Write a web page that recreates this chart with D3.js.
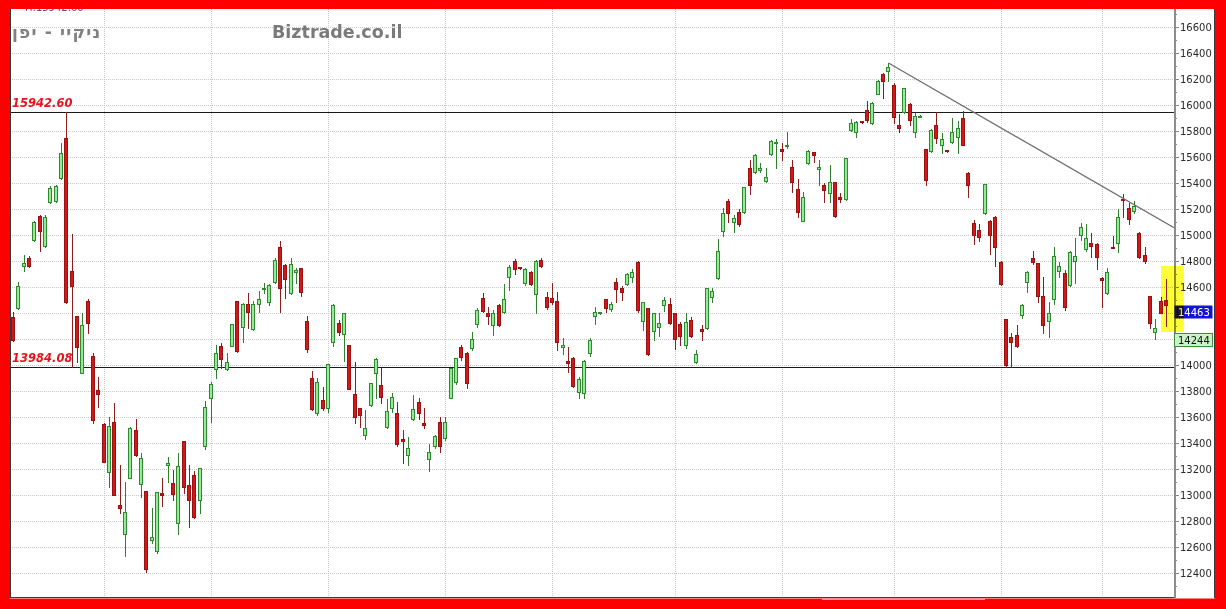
<!DOCTYPE html>
<html>
<head>
<meta charset="utf-8">
<script src="https://cdnjs.cloudflare.com/ajax/libs/d3/7.8.5/d3.min.js"></script>
<style>
  html, body { margin: 0; padding: 0; background: #fff; }
  svg { display: block; }
</style>
</head>
<body>
<svg id="chart" width="1226" height="609"></svg>
<script>
// Nikkei 225 daily candles (oldest first)
const openP = [
  14370,14440,14763,14824,14962,15147,14916,15255,15262,15439,15747,14724,14378,13940,14493,14071,13809,13548,13179,13563,
  12925,12702,13133,13502,13087,13033,12656,12572,13017,13233,13094,12787,13417,13079,13156,12964,13379,13748,13971,14148,
  13971,14148,14493,14294,14470,14278,14470,14586,14486,14640,14909,14770,14555,14716,14747,14340,13902,13632,13732,13671,
  14178,14324,14240,14155,13778,13671,13463,13694,13940,13848,13525,13671,13632,13433,13310,13586,13717,13556,13279,13379,
  13563,13440,13748,13871,14140,14094,14132,14317,14517,14401,14309,14463,14409,14678,14801,14751,14632,14716,14547,14809,
  14524,14517,14493,14140,14032,14055,13794,13786,14094,14378,14397,14509,14432,14640,14594,14624,14678,14793,14340,14440,
  14263,14294,14463,14470,14401,14317,14155,14347,14025,14278,14286,14524,14670,15032,15262,15101,15178,15178,15516,15485,
  15501,15416,15624,15710,15662,15685,15524,15355,15109,15554,15639,15508,15385,15324,15408,15293,15278,15808,15793,15874,
  15962,15862,16085,16239,16262,16154,15847,15947,16008,15793,15916,15662,15647,15847,15693,15651,15716,15754,15900,15478,
  15093,15039,15170,15108,15139,14793,14355,14217,14232,14386,14640,14824,14786,14532,14340,14509,14724,14709,14617,14801,
  15001,14893,14939,14932,14670,14555,14909,14939,15278,15209,15186,15016,14847,14532,14255,14493,14501
];
const highP = [
  14408,14640,14847,14839,15110,15155,15155,15378,15386,15708,15942.60,15009,14378,14401,14509,14094,13909,13556,13602,13709,
  13233,13102,13525,13586,13325,13033,12902,13025,13133,13294,13194,13325,13417,13233,13187,13210,13725,13871,14155,14171,
  14094,14317,14493,14478,14555,14493,14570,14632,14624,14824,14955,14778,14824,14747,14747,14378,13955,13902,13832,14009,
  14470,14347,14401,14155,14025,13671,13655,13863,14055,13978,13740,13786,13717,13502,13448,13771,13748,13671,13394,13463,
  13602,13602,13979,14055,14155,14101,14255,14440,14555,14447,14424,14470,14624,14770,14816,14755,14747,14724,14809,14824,
  14563,14632,14563,14209,14140,14063,13909,14040,14209,14447,14409,14509,14486,14670,14609,14709,14740,14801,14486,14440,
  14401,14401,14524,14517,14401,14332,14401,14370,14117,14309,14594,14594,14970,15208,15278,15155,15201,15370,15578,15624,
  15555,15516,15731,15735,15708,15793,15578,15431,15331,15655,15639,15578,15401,15539,15408,15324,15593,15893,15877,15880,
  16031,16023,16193,16246,16323,16169,15931,16131,16016,15939,15922,15662,15816,15947,15785,15655,15900,15877,15954,15485,
  15116,15086,15393,15116,15147,14801,14355,14247,14309,14470,14724,14878,14786,14678,14486,14909,14793,14732,14878,14978,
  15093,15086,15016,14939,14678,14747,14993,15201,15316,15247,15262,15024,14909,14532,14355,14524,14663
];
const lowP = [
  14185,14432,14724,14755,14955,14878,14909,15247,15255,15431,14480,13984.08,14025,13940,14247,13556,13679,13256,13064,13002,
  12864,12533,13133,13302,12987,12405,12633,12556,12917,13102,12964,12702,13017,12756,12825,12864,13356,13563,13902,13979,
  13963,14148,14101,14178,14286,14271,14409,14555,14463,14632,14409,14517,14547,14632,14532,14101,13655,13617,13655,13640,
  14148,14232,14032,13817,13556,13525,13433,13686,13748,13709,13517,13640,13379,13248,13233,13579,13586,13517,13187,13364,
  13333,13425,13748,13855,14040,13825,14117,14294,14409,14317,14232,14301,14401,14578,14701,14740,14617,14617,14401,14755,
  14432,14470,14117,14086,13948,13832,13748,13748,14071,14317,14394,14409,14417,14486,14501,14617,14640,14409,14271,14078,
  14194,14224,14417,14317,14125,14155,14132,14217,14017,14194,14278,14486,14663,14993,15101,15024,15070,15170,15316,15478,
  15485,15408,15616,15515,15578,15670,15331,15139,15109,15547,15562,15385,15255,15255,15139,15255,15270,15800,15754,15860,
  15870,15854,16085,16054,16185,15862,15793,15939,15847,15754,15912,15385,15639,15708,15631,15639,15708,15631,15693,15293,
  14932,14955,15162,14855,14763,14617,13987,13986,14140,14363,14563,14778,14486,14247,14217,14470,14678,14424,14609,14632,
  14962,14878,14832,14740,14447,14547,14901,14870,15139,15086,15170,14824,14786,14286,14201,14401,14301
];
const closeP = [
  14194,14609,14786,14763,15101,15032,15139,15362,15378,15631,14486,14609,14140,14309,14324,13579,13778,13256,13533,13002,
  12902,12871,13517,13310,13287,12433,12679,13025,13002,13248,13010,13225,13064,12964,12833,13210,13679,13855,14094,14048,
  14025,14317,14109,14470,14409,14470,14509,14594,14617,14809,14594,14663,14778,14732,14563,14125,13663,13871,13671,14009,
  14463,14255,14401,13817,13602,13617,13517,13863,14048,13755,13648,13755,13394,13417,13364,13663,13632,13540,13333,13456,
  13379,13563,13979,14055,14063,13863,14201,14424,14417,14378,14401,14309,14509,14755,14740,14743,14740,14624,14801,14763,
  14447,14486,14178,14155,14017,13840,13894,14032,14194,14409,14405,14440,14470,14586,14563,14701,14716,14424,14486,14086,
  14401,14324,14501,14324,14201,14224,14332,14224,14086,14263,14594,14570,14878,15170,15170,15132,15086,15370,15385,15616,
  15516,15447,15724,15718,15647,15693,15408,15178,15293,15647,15616,15524,15347,15408,15147,15278,15593,15862,15870,15866,
  15885,16016,16185,16185,16292,15908,15824,16131,15885,15916,15918,15424,15808,15747,15739,15643,15793,15824,15693,15385,
  15001,14986,15393,15001,14909,14624,14001,14178,14148,14463,14716,14793,14532,14309,14401,14839,14763,14447,14870,14839,
  15062,14978,14916,14832,14655,14716,14901,15139,15270,15124,15224,14832,14801,14324,14286,14401,14463
];

// first session of each month (candle index)
const monthStartIdx = [17, 37, 59, 81, 101, 124, 144, 165, 185, 204];
// price axis
const tickValues = d3.range(12400, 16601, 200);
const minorTickValues = d3.range(12300, 16701, 100);
// support / resistance levels
const levelHigh = 15942.60;
const levelLow = 13984.08;
const lastClose = 14463;
const markerLevel = 14244;
// falling resistance line through two session highs
const trendA = { i: 164, v: 16323 };
const trendB = { i: 208, v: 15281 };

const titleHe = "ניקיי - יפן";
const siteName = "Biztrade.co.il";
const headerInfo = "H:15942.60";

const W = 1226, H = 609;
const plot = { left: 10, right: 1174, top: 9, bottom: 597 };
const font = "DejaVu Sans, Verdana, sans-serif";

const candles = openP.map((o, i) => ({ i, o, h: highP[i], l: lowP[i], c: closeP[i] }));

const x = d3.scaleLinear().domain([0, candles.length - 1]).range([13, 1166]);
const y = d3.scaleLinear().domain([12400, 16600]).range([573, 27]);

const svg = d3.select("#chart");
svg.append("rect").attr("width", W).attr("height", H).attr("fill", "#fff");

svg.append("defs").append("clipPath").attr("id", "plotClip")
  .append("rect").attr("x", plot.left).attr("y", plot.top)
  .attr("width", plot.right - plot.left).attr("height", plot.bottom - plot.top);

const px = v => Math.round(v) + 0.5;

// grid
const grid = svg.append("g").attr("clip-path", "url(#plotClip)");
grid.selectAll("line.h").data(tickValues).join("line")
  .attr("x1", plot.left).attr("x2", plot.right)
  .attr("y1", d => px(y(d))).attr("y2", d => px(y(d)))
  .attr("stroke", "#c8c8c8").attr("stroke-dasharray", "1,1").attr("stroke-width", 1);
grid.selectAll("line.v").data(monthStartIdx).join("line")
  .attr("x1", d => px(x(d))).attr("x2", d => px(x(d)))
  .attr("y1", plot.top).attr("y2", plot.bottom)
  .attr("stroke", "#c8c8c8").attr("stroke-dasharray", "1,1").attr("stroke-width", 1);

// horizontal levels
grid.selectAll("line.lvl").data([levelHigh, levelLow]).join("line")
  .attr("x1", plot.left).attr("x2", plot.right)
  .attr("y1", d => px(y(d))).attr("y2", d => px(y(d)))
  .attr("stroke", "#1a1a1a").attr("stroke-width", 1);

// candles
const cg = svg.append("g").attr("clip-path", "url(#plotClip)").attr("shape-rendering", "crispEdges");
const up = d => d.c >= d.o;
cg.selectAll("line.wick").data(candles).join("line")
  .attr("x1", d => px(x(d.i))).attr("x2", d => px(x(d.i)))
  .attr("y1", d => Math.round(y(d.h))).attr("y2", d => Math.round(y(d.l)) + 1)
  .attr("stroke", d => up(d) ? "#2f7f2f" : "#8e1c1c").attr("stroke-width", 1);
cg.selectAll("rect.body").data(candles).join("rect")
  .attr("x", d => Math.round(x(d.i)) - 1.5)
  .attr("y", d => Math.round(y(Math.max(d.o, d.c))) + 0.5)
  .attr("width", 3)
  .attr("height", d => Math.max(1, Math.round(y(Math.min(d.o, d.c))) - Math.round(y(Math.max(d.o, d.c)))))
  .attr("fill", d => up(d) ? "#93ec93" : "#d11818")
  .attr("stroke", d => up(d) ? "#2f8a2f" : "#9b1010")
  .attr("stroke-width", 1);

// trendline extended to the right edge
const slope = (trendB.v - trendA.v) / (trendB.i - trendA.i);
const iEnd = x.invert(plot.right);
svg.append("line").attr("clip-path", "url(#plotClip)")
  .attr("x1", x(trendA.i)).attr("y1", y(trendA.v))
  .attr("x2", x(iEnd)).attr("y2", y(trendA.v + slope * (iEnd - trendA.i)))
  .attr("stroke", "#6e6e6e").attr("stroke-width", 1.3);

// value boxes on the axis
const boxW = 39, boxH = 13;
const boxes = [
  { v: lastClose, fill: "#1414d8", stroke: "none", text: "#fff" },
  { v: markerLevel, fill: "#c6f4c6", stroke: "#3d8f3d", text: "#111" }
];
const boxTop = v => Math.round(y(v));
const hiddenByBox = t => boxes.some(b => y(t) > boxTop(b.v) - 4 && y(t) < boxTop(b.v) + boxH + 4);

// right price axis
const ax = svg.append("g").attr("shape-rendering", "crispEdges");
ax.selectAll("line.minor").data(minorTickValues.filter(v => y(v) > plot.top && y(v) < plot.bottom)).join("line")
  .attr("x1", plot.right).attr("x2", plot.right + 3)
  .attr("y1", d => px(y(d))).attr("y2", d => px(y(d)))
  .attr("stroke", "#8a8a8a");
ax.selectAll("line.major").data(tickValues).join("line")
  .attr("x1", plot.right).attr("x2", plot.right + 5)
  .attr("y1", d => px(y(d))).attr("y2", d => px(y(d)))
  .attr("stroke", "#8a8a8a");
ax.append("line").attr("x1", plot.right + 0.5).attr("x2", plot.right + 0.5)
  .attr("y1", plot.top).attr("y2", plot.bottom + 1)
  .attr("stroke", "#8c8c8c").attr("stroke-width", 2);
ax.selectAll("text").data(tickValues.filter(t => !hiddenByBox(t))).join("text")
  .attr("x", plot.right + 6).attr("y", d => y(d) + 3.5)
  .attr("font-family", font).attr("font-size", 10)
  .attr("fill", "#2a2a2a").text(d => d);

boxes.forEach(b => {
  svg.append("rect").attr("x", plot.right + 0.5).attr("y", boxTop(b.v) + 0.5)
    .attr("width", boxW - 1).attr("height", boxH)
    .attr("fill", b.fill).attr("stroke", b.stroke);
  svg.append("text").attr("x", plot.right + 4).attr("y", boxTop(b.v) + 10.5)
    .attr("font-family", font).attr("font-size", 10)
    .attr("fill", b.text).text(b.v);
});

// highlight on the latest session
const last = candles[candles.length - 1];
svg.append("rect")
  .attr("x", Math.round(x(last.i)) - 5).attr("y", Math.round(y(last.h)) - 13)
  .attr("width", 23).attr("height", Math.round(y(last.l)) - Math.round(y(last.h)) + 19)
  .attr("fill", "#ffff2a").style("mix-blend-mode", "multiply").attr("opacity", 0.95);

// level labels
svg.selectAll("text.lvl").data([levelHigh, levelLow]).join("text")
  .attr("x", 12).attr("y", d => Math.round(y(d)) - 5)
  .attr("font-family", font).attr("font-size", 11.5).attr("font-style", "italic").attr("font-weight", "bold")
  .attr("fill", "#e8121c").text(d => d.toFixed(2));

// header texts
svg.append("text").attr("x", 25).attr("y", 10.5)
  .attr("font-family", font).attr("font-size", 10).attr("fill", "#6b3fa0").text(headerInfo);
svg.append("text").attr("x", 12).attr("y", 38)
  .attr("font-family", font).attr("font-size", 17).attr("font-weight", "bold")
  .attr("letter-spacing", 1.2)
  .attr("fill", "#808080").text(titleHe);
svg.append("text").attr("x", 272).attr("y", 38)
  .attr("font-family", font).attr("font-size", 17.5).attr("font-weight", "bold")
  .attr("fill", "#7a7a7a").text(siteName);

// frame lines
const frame = svg.append("g").attr("shape-rendering", "crispEdges").attr("stroke", "#3a3a3a");
frame.append("line").attr("x1", 10.5).attr("x2", 10.5).attr("y1", plot.top).attr("y2", 598);
frame.append("line").attr("x1", 10).attr("x2", plot.right).attr("y1", 597.5).attr("y2", 597.5);
frame.append("line").attr("x1", 1214.5).attr("x2", 1214.5).attr("y1", plot.top).attr("y2", 598);

// red outer border
svg.append("path")
  .attr("d", `M0,0H${W}V${H}H0Z M10,9V598.5H1215V9Z`)
  .attr("fill", "#ff0000").attr("fill-rule", "evenodd");
svg.append("rect").attr("x", 822).attr("y", 598.5).attr("width", 163).attr("height", 1.5)
  .attr("fill", "#ff9a9a");
</script>
</body>
</html>
